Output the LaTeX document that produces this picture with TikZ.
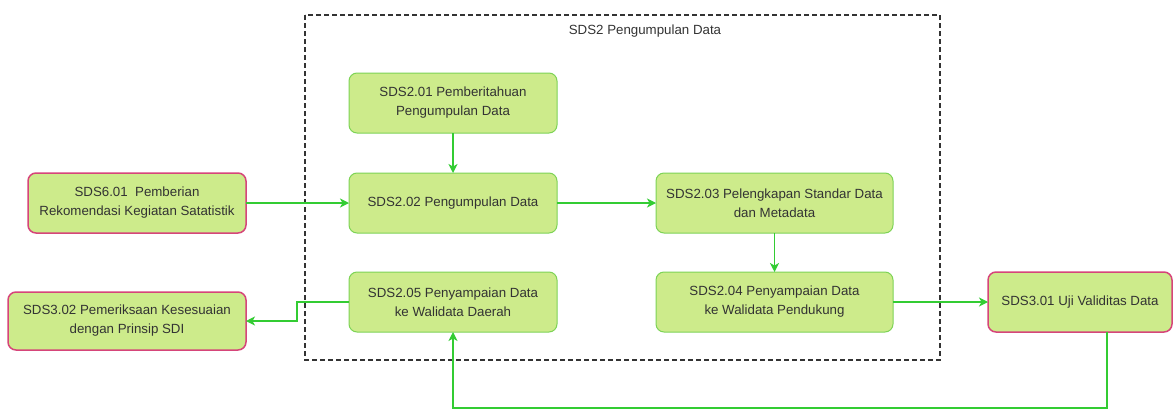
\documentclass[tikz,border=0pt]{standalone}
\usepackage{fontspec}
\setmainfont{Liberation Sans}
\usetikzlibrary{arrows.meta, positioning}
\definecolor{boxfill}{HTML}{CDEB8B}
\definecolor{boxline}{HTML}{7DD356}
\definecolor{extline}{HTML}{D6457A}
\definecolor{arrline}{HTML}{33CC33}
\definecolor{txt}{HTML}{333333}
\begin{document}
\begin{tikzpicture}[x=1pt, y=-1pt,
   box/.style = {draw=boxline, fill=boxfill, rounded corners=8pt,
                 line width=1pt, text=txt,
                 font=\fontsize{13.3}{19}\selectfont,
                 align=center, inner sep=2pt, outer sep=0pt,
                 minimum width=208pt, minimum height=60pt},
   ext/.style = {box, draw=extline, line width=1.5pt},
   frm/.style = {draw=black!80, line width=1.3pt, dash pattern=on 5pt off 3pt},
   arr/.style = {draw=arrline, line width=1.3pt,
                 -{Stealth[length=9pt,width=9pt,inset=2.5pt]}}
                        ]
\useasboundingbox (0,0) rectangle (1175,410);
    % frame
\draw[frm] (305,15) rectangle (940,360);
\node (ttl) [text=txt,font=\fontsize{13.3}{19}\selectfont] at (645,31) {SDS2 Pengumpulan Data};
    % blocks (boxes)
\node (n01)  [box] at (453,103)  {SDS2.01 Pemberitahuan\\Pengumpulan Data};
\node (n02)  [box] at (453,203)  {SDS2.02 Pengumpulan Data};
\node (n03)  [box,minimum width=237pt] at (774.5,203) {SDS2.03 Pelengkapan Standar Data\\dan Metadata};
\node (n04)  [box,minimum width=237pt] at (774.5,302) {SDS2.04 Penyampaian Data\\ke Walidata Pendukung};
\node (n05)  [box] at (453,302)  {SDS2.05 Penyampaian Data\\ke Walidata Daerah};
\node (s601) [ext,minimum width=218pt] at (137,203)  {SDS6.01\ \ Pemberian\\Rekomendasi Kegiatan Satatistik};
\node (s302) [ext,minimum width=238pt,minimum height=58pt] at (127,321) {SDS3.02 Pemeriksaan Kesesuaian\\dengan Prinsip SDI};
\node (s301) [ext,minimum width=184pt] at (1080,302) {SDS3.01 Uji Validitas Data};
    % arrows
\coordinate (c1) at (1107,408);
\coordinate (c2) at (297,302);
\draw[arr] (s601) -- (n02);
\draw[arr] (n01)  -- (n02);
\draw[arr] (n02)  -- (n03);
\draw[arr] (n03)  -- (n04);
\draw[arr] (n04)  -- (s301);
\draw[arr] (s301.south -| c1) -- (c1) -| (n05.south);
\draw[arr] (n05) -- (c2) |- (s302);
\end{tikzpicture}
\end{document}
